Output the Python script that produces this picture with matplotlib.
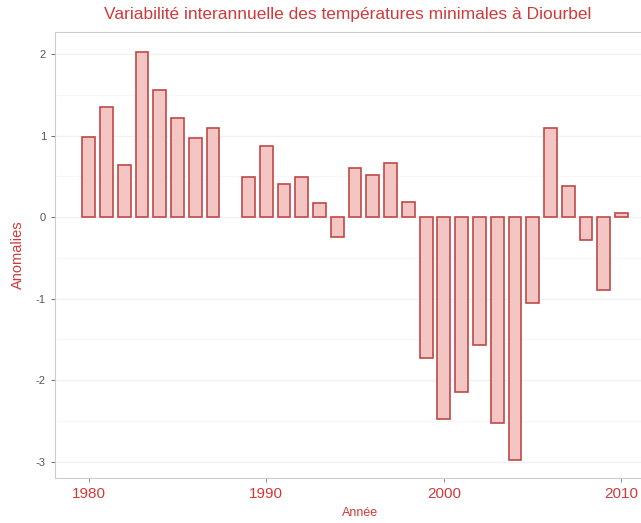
import numpy as np
import matplotlib
matplotlib.use("Agg")
import matplotlib.pyplot as plt

# annees (1988 manquante)
years = [1980, 1981, 1982, 1983, 1984, 1985, 1986, 1987,
         1989, 1990, 1991, 1992, 1993, 1994, 1995, 1996, 1997, 1998,
         1999, 2000, 2001, 2002, 2003, 2004, 2005, 2006, 2007, 2008,
         2009, 2010]
anomalies = [0.98, 1.35, 0.64, 2.03, 1.56, 1.21, 0.97, 1.09,
             0.49, 0.87, 0.40, 0.49, 0.17, -0.25, 0.60, 0.52, 0.66, 0.19,
             -1.73, -2.48, -2.15, -1.57, -2.52, -2.98, -1.05, 1.09, 0.38, -0.28,
             -0.90, 0.05]
xticks = [1980, 1990, 2000, 2010]
yticks = [-3, -2, -1, 0, 1, 2]

red = "#d23a3a"
plt.rcParams['font.family'] = ['Liberation Sans Narrow', 'Liberation Sans', 'DejaVu Sans']

fig = plt.figure(figsize=(6.41, 5.23), dpi=100)
ax = fig.add_axes([55 / 641, 1 - 478 / 523, 586 / 641, 446 / 523])

ax.bar(years, anomalies, width=0.72, color="#f3c6c4", edgecolor="#bf4848",
       linewidth=1.2, zorder=3)

ax.set_xlim(1978.1, 2011.1)
ax.set_ylim(-3.2, 2.27)
ax.set_xticks(xticks)
ax.set_yticks(yticks)
ax.set_yticklabels([str(t) for t in yticks])
ax.yaxis.grid(True, color="#f2f2f2", linewidth=1.0, zorder=0)
ax.set_yticks([-2.5, -1.5, -0.5, 0.5, 1.5], minor=True)
ax.yaxis.grid(True, which="minor", color="#f7f7f7", linewidth=0.8, zorder=0)
ax.tick_params(axis="y", which="minor", length=0)
ax.tick_params(axis="y", labelsize=8, colors="#555555", length=3, width=0.6)
ax.tick_params(axis="x", labelsize=11, labelcolor=red, color="#777777", length=3, width=0.6)

for side in ["top", "left", "bottom"]:
    ax.spines[side].set_color("#cccccc")
    ax.spines[side].set_linewidth(0.8)
ax.spines["right"].set_visible(False)

ax.set_title("Variabilité interannuelle des températures minimales à Diourbel",
             color=red, fontsize=12.5, pad=9)
ax.set_ylabel("Anomalies", color=red, fontsize=10.5, labelpad=8)
ax.set_xlabel("Année", color=red, fontsize=9, labelpad=1)
ax.xaxis.set_label_coords(0.52, -0.065)

fig.savefig("out.png", dpi=100)
